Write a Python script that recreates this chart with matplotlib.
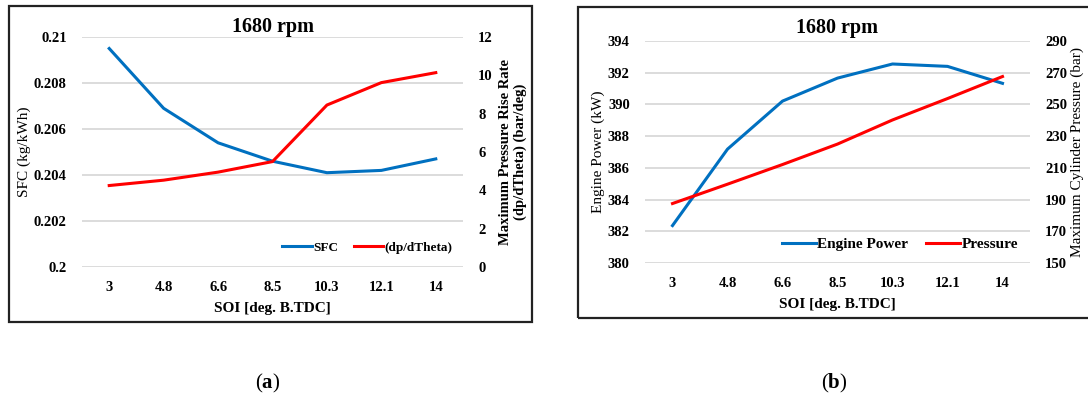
import matplotlib
matplotlib.use("Agg")
import matplotlib.pyplot as plt
from matplotlib.patches import Rectangle

plt.rcParams['font.family'] = ['Liberation Serif', 'DejaVu Serif']
plt.rcParams['mathtext.fontset'] = 'custom'
plt.rcParams['mathtext.rm'] = 'Liberation Serif'
plt.rcParams['mathtext.bf'] = 'Liberation Serif:bold'

# data
soi = ['3', '4.8', '6.6', '8.5', '10.3', '12.1', '14']
sfc = [0.2095, 0.2069, 0.2054, 0.2046, 0.2041, 0.2042, 0.2047]
dpdtheta = [4.25, 4.53, 4.95, 5.5, 8.45, 9.62, 10.14]
power = [382.36, 387.18, 390.21, 391.66, 392.55, 392.4, 391.33]
pressure = [187.5, 199.7, 212.1, 225.0, 240.2, 253.7, 267.6]

blue = '#0070C0'
red = '#FF0000'
grid_c = '#D9D9D9'
W, H = 1088, 398

fig = plt.figure(figsize=(W / 100, H / 100), dpi=100)

# panel frames
fig.patches.append(Rectangle((9 / W, 1 - 322 / H), 523 / W, 316 / H,
                             transform=fig.transFigure, fill=False,
                             edgecolor='#222222', linewidth=1.6))
fig.patches.append(Rectangle((578 / W, 1 - 318 / H), 520 / W, 311 / H,
                             transform=fig.transFigure, fill=False,
                             edgecolor='#222222', linewidth=1.6))

x = list(range(len(soi)))


def style(ax, ax2):
    for a in (ax, ax2):
        for s in a.spines.values():
            s.set_visible(False)
        a.tick_params(length=0, labelsize=10.5)
        for lbl in a.get_yticklabels() + a.get_xticklabels():
            lbl.set_fontweight('bold')
    ax.set_xlim(-0.5, len(soi) - 0.5)
    ax.set_xticks(x)
    ax.set_xticklabels(soi, fontweight='bold')
    ax.tick_params(axis='x', pad=10)
    ax.tick_params(axis='y', pad=11)
    ax2.tick_params(axis='y', pad=11)
    ax.yaxis.grid(True, color=grid_c, linewidth=1.3)
    ax.set_axisbelow(True)
    ax.set_facecolor('none')


# (a)
ax = fig.add_axes([82 / W, 1 - 267 / H, 381 / W, 230 / H])
ax2 = ax.twinx()
l1, = ax.plot(x, sfc, color=blue, linewidth=2.2, label='SFC')
l2, = ax2.plot(x, dpdtheta, color=red, linewidth=2.2, label='(dp/dTheta)')
ax.set_ylim(0.2, 0.21)
ax.set_yticks([0.2, 0.202, 0.204, 0.206, 0.208, 0.21])
ax.set_yticklabels(['0.2', '0.202', '0.204', '0.206', '0.208', '0.21'])
ax2.set_ylim(0, 12)
ax2.set_yticks([0, 2, 4, 6, 8, 10, 12])
style(ax, ax2)
ax.set_ylabel('SFC (kg/kWh)', fontsize=11, labelpad=2)
ax2.set_ylabel('Maximum Pressure Rise Rate\n(dp/dTheta) (bar/deg)',
               fontsize=10.5, fontweight='bold', labelpad=4)
ax.set_xlabel('SOI [deg. B.TDC]', fontsize=11, fontweight='bold', labelpad=6)
ax.set_title('1680 rpm', fontsize=14.5, fontweight='bold', pad=3)
ax.legend(handles=[l1, l2], loc='center right', bbox_to_anchor=(0.985, 0.083),
          borderaxespad=0, ncol=2, frameon=False, handlelength=2.2,
          columnspacing=1.2, handletextpad=0.1,
          prop={'weight': 'bold', 'size': 9.5})

# (b)
bx = fig.add_axes([645 / W, 1 - 263 / H, 385 / W, 222 / H])
bx2 = bx.twinx()
m1, = bx.plot(x, power, color=blue, linewidth=2.2, label='Engine Power')
m2, = bx2.plot(x, pressure, color=red, linewidth=2.2, label='Pressure')
bx.set_ylim(380, 394)
bx.set_yticks(range(380, 395, 2))
bx2.set_ylim(150, 290)
bx2.set_yticks(range(150, 291, 20))
style(bx, bx2)
bx.set_ylabel('Engine Power (kW)', fontsize=11, labelpad=2)
bx2.set_ylabel('Maximum Cylinder Pressure (bar)', fontsize=11, labelpad=2)
bx.set_xlabel('SOI [deg. B.TDC]', fontsize=11, fontweight='bold', labelpad=6)
bx.set_title('1680 rpm', fontsize=14.5, fontweight='bold', pad=6)
bx.legend(handles=[m1, m2], loc='center right', bbox_to_anchor=(0.985, 0.085),
          borderaxespad=0, ncol=2, frameon=False, handlelength=2.2,
          columnspacing=1.2, handletextpad=0.1,
          prop={'weight': 'bold', 'size': 11})

fig.text(268 / W, 1 - 383 / H, r'($\mathbf{a}$)', ha='center', va='center',
         fontsize=15)
fig.text(834 / W, 1 - 383 / H, r'($\mathbf{b}$)', ha='center', va='center',
         fontsize=15)

fig.savefig('out.png', dpi=100)
